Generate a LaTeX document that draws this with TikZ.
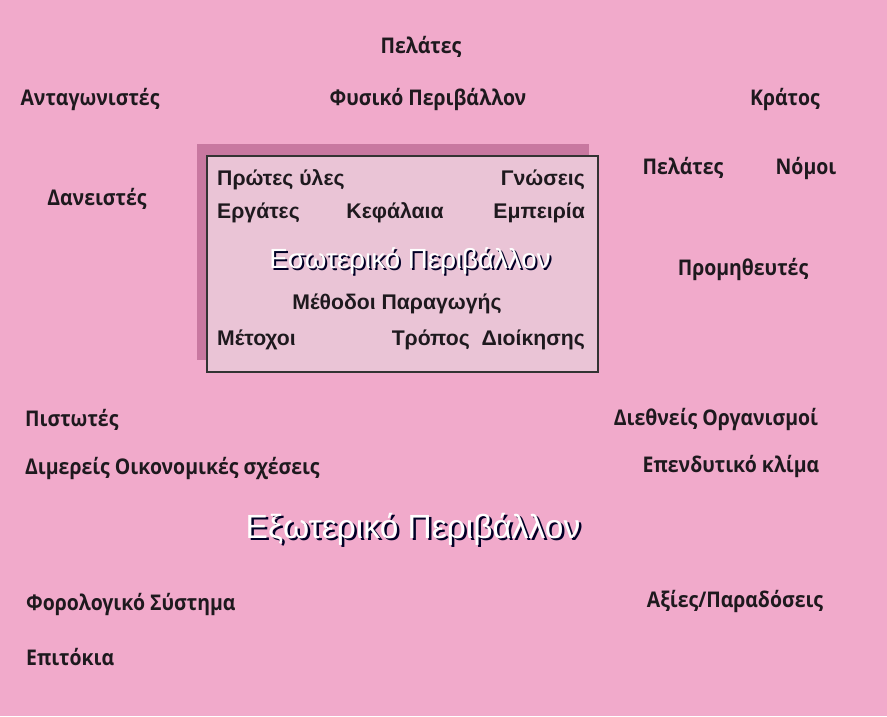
\documentclass[tikz,border=0pt]{standalone}
\usepackage{fontspec}
\setmainfont{Liberation Sans}
\newfontfamily\outerfont[FakeStretch=0.9]{Open Sans}
\definecolor{bgpink}{RGB}{241,170,203}
\definecolor{boxpink}{RGB}{234,196,214}
\definecolor{shadowpink}{RGB}{200,120,160}
\definecolor{txt}{RGB}{30,25,30}
\tikzset{
  outer/.style={font=\outerfont\bfseries\fontsize{21.6}{24}\selectfont, text=txt, inner sep=0pt},
  inner/.style={font=\bfseries\fontsize{21.2}{24}\selectfont, text=txt, inner sep=0pt},
  title/.style={text=white, inner sep=0pt},
  titleshadow/.style={text=black!85!blue, inner sep=0pt},
}
\begin{document}
\begin{tikzpicture}[x=1pt,y=-1pt]
\fill[bgpink] (0,0) rectangle (887,716);
\useasboundingbox (0,0) rectangle (887,716);
% shadow and box
\fill[shadowpink] (197,144) rectangle (589,360);
\node[draw=black!80, line width=1.6pt, fill=boxpink, minimum width=391pt, minimum height=216pt, inner sep=0pt, anchor=north west] (box) at (206,155) {};
% outer labels
\node[outer] (pel1) at (421,47) {Πελάτες};
\node[outer] (anta) at (90,99) {Ανταγωνιστές};
\node[outer] (fys) at (428,99) {Φυσικό Περιβάλλον};
\node[outer] (krat) at (785,99) {Κράτος};
\node[outer] (dan) at (97,199) {Δανειστές};
\node[outer] (pel2) at (683,168) {Πελάτες};
\node[outer] (nom) at (806,168) {Νόμοι};
\node[outer] (prom) at (743,269) {Προμηθευτές};
\node[outer, anchor=west] (pist) at (25,420) {Πιστωτές};
\node[outer, anchor=west] (dim) at (25,468) {Διμερείς Οικονομικές σχέσεις};
\node[outer] (dieth) at (716,419) {Διεθνείς Οργανισμοί};
\node[outer] (epen) at (731,466) {Επενδυτικό κλίμα};
\node[outer, anchor=west] (foro) at (26,604) {Φορολογικό Σύστημα};
\node[outer, anchor=west] (epit) at (26,657) {Επιτόκια};
\node[outer] (axies) at (735,601) {Αξίες/Παραδόσεις};
% inner labels
\node[inner, anchor=west] (prot) at (217,180) {Πρώτες ύλες};
\node[inner, anchor=east] (gnos) at (585,180) {Γνώσεις};
\node[inner, anchor=west] (erg) at (217,213) {Εργάτες};
\node[inner] (kef) at (395,213) {Κεφάλαια};
\node[inner, anchor=east] (emp) at (585,213) {Εμπειρία};
\node[inner] (meth) at (397,304) {Μέθοδοι Παραγωγής};
\node[inner, anchor=west] (met) at (217,340) {Μέτοχοι};
\node[inner, anchor=east] (trop) at (585,340) {Τρόπος\ \ Διοίκησης};
% titles
\node[titleshadow, font=\fontsize{27.7}{30}\selectfont] (esws) at (412,263) {Εσωτερικό Περιβάλλον};
\node[title, font=\fontsize{27.7}{30}\selectfont] (esw) at (410,261) {Εσωτερικό Περιβάλλον};
\node[titleshadow, font=\fontsize{33.5}{36}\selectfont] (exws) at (415.5,531.5) {Εξωτερικό Περιβάλλον};
\node[title, font=\fontsize{33.5}{36}\selectfont] (exw) at (413,529) {Εξωτερικό Περιβάλλον};
\end{tikzpicture}
\end{document}
